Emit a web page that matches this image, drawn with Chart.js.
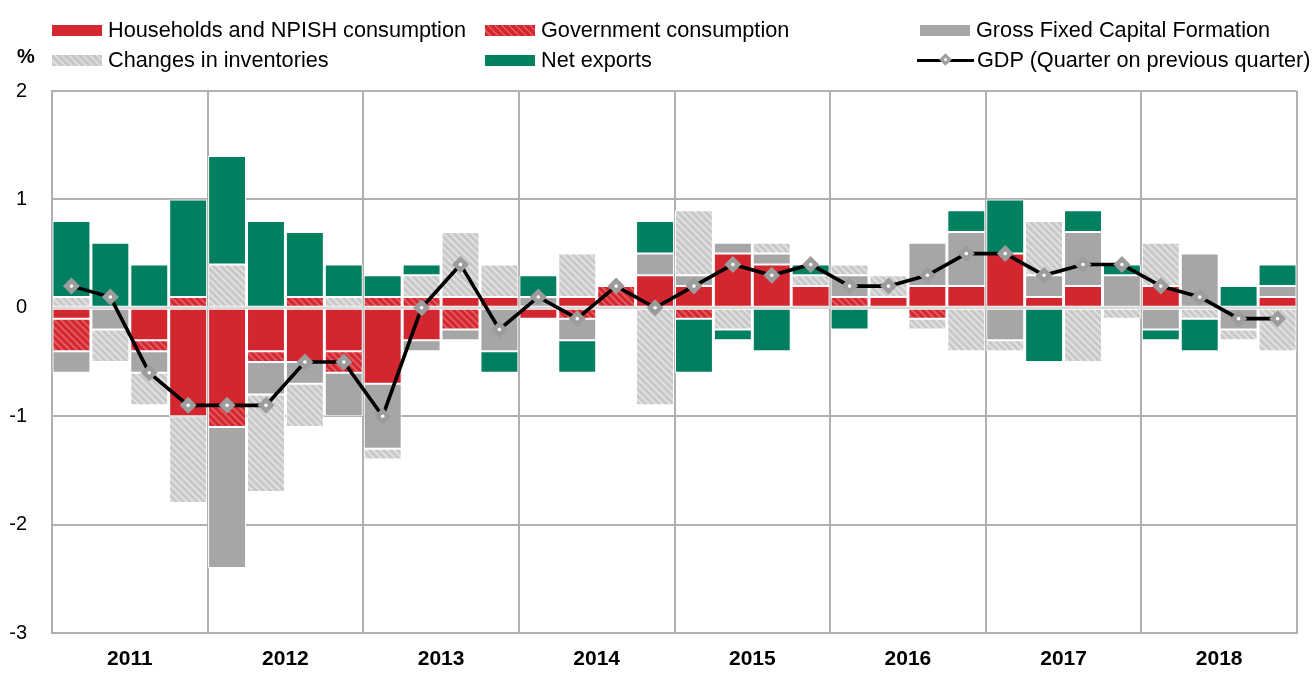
<!DOCTYPE html>
<html><head><meta charset="utf-8">
<script src="https://cdn.jsdelivr.net/npm/chart.js@4.4.1/dist/chart.umd.min.js"></script>
<style>
html,body{margin:0;padding:0;background:#fff;}
#wrap{position:relative;width:1316px;height:673px;font-family:"Liberation Sans",Arial,sans-serif;overflow:hidden;}
#c{position:absolute;left:0;top:0;}
.item{position:absolute;height:26px;display:flex;align-items:center;font-size:21.7px;color:#000;white-space:nowrap;}
.sw{width:50px;height:11px;margin-right:6px;flex:none;}
.gdpsym{position:relative;width:57px;height:14px;margin-right:3px;flex:none;}
.gdpsym .ln{position:absolute;left:0;right:0;top:5.5px;height:3px;background:#000;}
.gdpsym .dm{position:absolute;left:24px;top:2px;width:9px;height:9px;background:#a0a0a0;transform:rotate(45deg);}
.gdpsym .dt{position:absolute;left:27px;top:5px;width:3px;height:3px;border-radius:50%;background:#fff;}
#pct{position:absolute;left:17px;top:45px;font-size:20px;font-weight:bold;}
</style></head>
<body>
<div id="wrap"><canvas id="c" width="1316" height="673"></canvas><div id="pct">%</div></div>
<script>
// ---- data ----
const years = ['2011','2012','2013','2014','2015','2016','2017','2018'];
const quarters = ['2011Q1','2011Q2','2011Q3','2011Q4','2012Q1','2012Q2','2012Q3','2012Q4',
  '2013Q1','2013Q2','2013Q3','2013Q4','2014Q1','2014Q2','2014Q3','2014Q4',
  '2015Q1','2015Q2','2015Q3','2015Q4','2016Q1','2016Q2','2016Q3','2016Q4',
  '2017Q1','2017Q2','2017Q3','2017Q4','2018Q1','2018Q2','2018Q3','2018Q4'];
const households = [-0.1,0,-0.3,-1.0,-0.9,-0.4,-0.5,-0.4, -0.7,-0.3,0.1,0.1,-0.1,0.1,0,0.3,
  0.2,0.5,0.4,0.2,0,0.1,0.2,0.2, 0.5,0.1,0.2,0,0.2,0,0,0.1];
const government = [-0.3,0,-0.1,0.1,-0.2,-0.1,0.1,-0.2, 0.1,0.1,-0.2,0,0,-0.1,0.2,0,
  -0.1,0,0,0,0.1,0,-0.1,0, 0,0,0,0,0,0,0,0];
const gfcf = [-0.2,-0.2,-0.2,0,-1.3,-0.3,-0.2,-0.4, -0.6,-0.1,-0.1,-0.4,0.1,-0.2,0,0.2,
  0.1,0.1,0.1,0,0.2,0,0.4,0.5, -0.3,0.2,0.5,0.3,-0.2,0.5,-0.2,0.1];
const inventories = [0.1,-0.3,-0.3,-0.8,0.4,-0.9,-0.4,0.1, -0.1,0.2,0.6,0.3,0,0.4,0,-0.9,
  0.6,-0.2,0.1,0.1,0.1,0.2,-0.1,-0.4, -0.1,0.5,-0.5,-0.1,0.4,-0.1,-0.1,-0.4];
const netExports = [0.7,0.6,0.4,0.9,1.0,0.8,0.6,0.3, 0.2,0.1,0,-0.2,0.2,-0.3,0,0.3,
  -0.5,-0.1,-0.4,0.1,-0.2,0,0,0.2, 0.5,-0.5,0.2,0.1,-0.1,-0.3,0.2,0.2];
const gdp = [0.2,0.1,-0.6,-0.9,-0.9,-0.9,-0.5,-0.5, -1.0,0.0,0.4,-0.2,0.1,-0.1,0.2,0.0,
  0.2,0.4,0.3,0.4,0.2,0.2,0.3,0.5, 0.5,0.3,0.4,0.4,0.2,0.1,-0.1,-0.1];
const seriesNames = ['Households and NPISH consumption','Government consumption','Gross Fixed Capital Formation',
  'Changes in inventories','Net exports','GDP (Quarter on previous quarter)'];
const yTicks = [2,1,0,-1,-2,-3];

// ---- styles ----
const RED='#d3262f', RED_ST='#e0595f', GREEN='#008061', GRAY='#a6a6a6', LG='#c8c8c8', LG_ST='#e0e0e0';
function hatch(base, stripe){
  const c=document.createElement('canvas'); c.width=7; c.height=7;
  const g=c.getContext('2d'); g.fillStyle=base; g.fillRect(0,0,7,7);
  g.strokeStyle=stripe; g.lineWidth=2; g.beginPath();
  for(const o of [-7,0,7]){ g.moveTo(o-1,-1); g.lineTo(o+8,8); }
  g.stroke();
  return g.createPattern(c,'repeat');
}
const govPat = hatch(RED, RED_ST), invPat = hatch(LG, LG_ST);

// ---- legend (HTML) ----
const legendSpec = [
  {i:0,x:52,y:30,css:'background:'+RED},
  {i:1,x:485,y:30,css:'background:repeating-linear-gradient(45deg,'+RED+' 0 3.5px,'+RED_ST+' 3.5px 5px)'},
  {i:2,x:920,y:30,css:'background:'+GRAY},
  {i:3,x:52,y:60,css:'background:repeating-linear-gradient(45deg,'+LG+' 0 3.5px,'+LG_ST+' 3.5px 5px)'},
  {i:4,x:485,y:60,css:'background:'+GREEN},
  {i:5,x:917,y:60,gdp:true}
];
const wrap=document.getElementById('wrap');
legendSpec.forEach(s=>{
  const d=document.createElement('div'); d.className='item';
  d.style.left=s.x+'px'; d.style.top=(s.y-13)+'px';
  if(s.gdp){ d.innerHTML='<span class="gdpsym"><span class="ln"></span><span class="dm"></span><span class="dt"></span></span>'; }
  else { d.innerHTML='<span class="sw" style="'+s.css+'"></span>'; }
  const t=document.createElement('span'); t.textContent=seriesNames[s.i]; d.appendChild(t);
  wrap.appendChild(d);
});

const zeroLine = { id:'zeroLine', beforeDatasetDraw(chart,args){
  if(args.index!==5) return;
  const {ctx, chartArea:a} = chart; const py = chart.scales.y.getPixelForValue(0);
  ctx.save(); ctx.strokeStyle='#d9d9d9'; ctx.lineWidth=2.5;
  ctx.beginPath(); ctx.moveTo(a.left,py); ctx.lineTo(a.right,py); ctx.stroke(); ctx.restore();
}};

const barCommon = {type:'bar', stack:'comp', order:2, borderColor:'#ffffff', borderWidth:1, borderSkipped:false,
  barPercentage:0.975, categoryPercentage:1};
new Chart(document.getElementById('c'), {
  data:{
    labels: quarters,
    datasets:[
      Object.assign({label:seriesNames[0], data:households, backgroundColor:RED}, barCommon),
      Object.assign({label:seriesNames[1], data:government, backgroundColor:govPat}, barCommon),
      Object.assign({label:seriesNames[2], data:gfcf, backgroundColor:GRAY}, barCommon),
      Object.assign({label:seriesNames[3], data:inventories, backgroundColor:invPat}, barCommon),
      Object.assign({label:seriesNames[4], data:netExports, backgroundColor:GREEN}, barCommon),
      {type:'line', label:seriesNames[5], data:gdp, stack:'gdp', order:1, borderColor:'#000', borderWidth:3.6,
       tension:0, pointStyle:'rectRot', pointRadius:8.5, pointBackgroundColor:'#9c9c9c', pointBorderColor:'#9c9c9c', pointBorderWidth:0},
      {type:'line', label:'dots', data:gdp, stack:'dots', order:0, showLine:false, pointStyle:'circle', pointRadius:1.8,
       pointBackgroundColor:'#fff', pointBorderWidth:0}
    ]
  },
  options:{
    responsive:false, animation:false,
    layout:{padding:{top:91,right:19,left:0,bottom:0}},
    plugins:{legend:{display:false}, tooltip:{enabled:false}},
    scales:{
      x:{type:'category', display:false, stacked:true, offset:true},
      x2:{type:'category', labels:years, position:'bottom', offset:true,
        grid:{offset:true, color:'#b0b0b0', lineWidth:2, drawTicks:false},
        border:{color:'#b0b0b0', width:2},
        ticks:{color:'#000', padding:14, font:{family:'"Liberation Sans", Arial, sans-serif', size:21, weight:'bold'}},
        afterFit(s){ s.height=40; }},
      y:{stacked:true, min:-3, max:2,
        afterBuildTicks(s){ s.ticks = yTicks.map(v=>({value:v})); },
        grid:{color:'#b0b0b0', lineWidth:2, drawTicks:false},
        border:{color:'#b0b0b0', width:2},
        ticks:{color:'#000', padding:25, font:{family:'"Liberation Sans", Arial, sans-serif', size:20}},
        afterFit(s){ s.width=52; }}
    }
  },
  plugins:[zeroLine]
});
</script>
</body></html>
